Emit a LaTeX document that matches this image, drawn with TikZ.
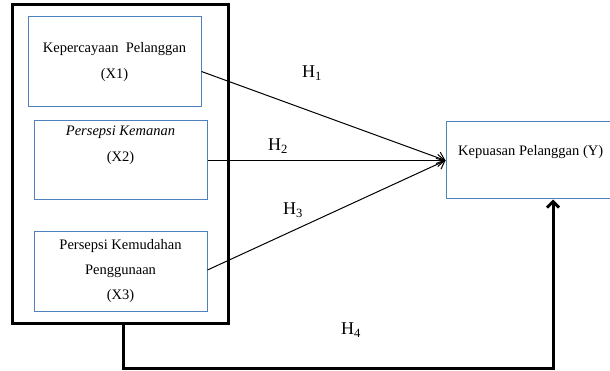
\documentclass[tikz,border=0pt]{standalone}
\usepackage{fontspec}
\setmainfont{Liberation Serif}
\usetikzlibrary{arrows.meta,calc}
\definecolor{boxblue}{RGB}{79,129,189}
\begin{document}
\begin{tikzpicture}[x=1pt,y=-1pt,
  varbox/.style={draw=boxblue,line width=1pt,inner sep=0pt,align=center,
    font=\fontsize{14.5}{26}\selectfont},
  txt/.style={inner sep=0pt,font=\fontsize{14.5}{26}\selectfont},
  hlabel/.style={inner sep=0pt,font=\fontsize{18}{20}\selectfont},
  hyparrow/.style={line width=1pt,-{Straight Barb[length=7pt,width=12pt]}},
  thickarrow/.style={line width=3pt,-{Straight Barb[length=6pt,width=12pt]}},
  ]
\useasboundingbox (0,0) rectangle (610,371);
\node[draw,line width=3pt,minimum width=216pt,minimum height=318pt,inner sep=0pt] (outer) at (120,164) {};
\node[varbox,minimum width=173pt,minimum height=90pt] (X1) at (114.5,62) {Kepercayaan\ \ Pelanggan\\(X1)};
\node[varbox,minimum width=173pt,minimum height=79pt] (X2) at (120.5,160.5) {\itshape Persepsi Kemanan\\(X2)\\\strut};
\node[varbox,minimum width=173pt,minimum height=79pt,font=\fontsize{14.5}{25}\selectfont] (X3) at (120.5,271.5) {Persepsi Kemudahan\\Penggunaan\\(X3)};
\node[draw=boxblue,line width=1pt,inner sep=0pt,minimum width=214pt,minimum height=77pt] (Y) at (553,160.5) {};
\node[txt,anchor=west] (ytext) at (458,152) {Kepuasan Pelanggan (Y)};

\draw[hyparrow] ([yshift=-9.5pt]X1.east) -- (Y.west);
\draw[hyparrow] (X2.east) -- (Y.west);
\draw[hyparrow] ([yshift=1.5pt]X3.east) -- (Y.west);

\node[hlabel] (h1) at (312,73) {H\textsubscript{1}};
\node[hlabel] (h2) at (278,146) {H\textsubscript{2}};
\node[hlabel] (h3) at (293,210) {H\textsubscript{3}};
\node[hlabel] (h4) at (351,330) {H\textsubscript{4}};

\coordinate (bl) at (123,368);
\coordinate (br) at (553,368);
\draw[thickarrow] ([xshift=3pt]outer.south) -- (bl) -- (br) -- (Y.south);
\end{tikzpicture}
\end{document}
